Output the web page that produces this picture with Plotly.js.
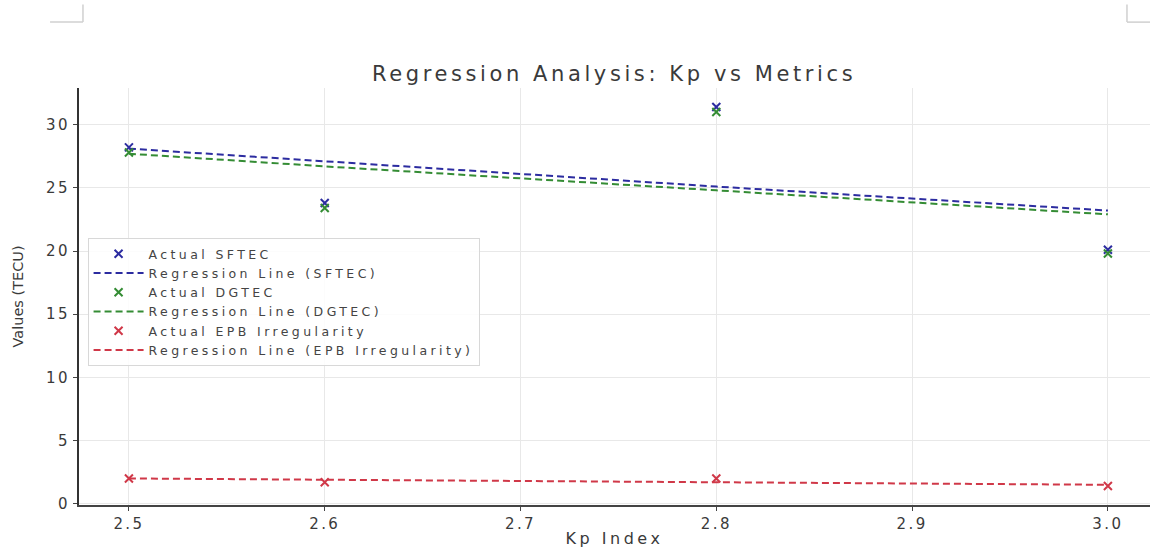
<!DOCTYPE html>
<html>
<head>
<meta charset="utf-8">
<script src="https://cdn.plot.ly/plotly-3.0.1.min.js"></script>
<style>
html,body{margin:0;padding:0;background:#fff;}
#chart{width:1150px;height:548px;}
.gtitle{letter-spacing:3.6px;}
.xtick text,.ytick text{letter-spacing:2.4px;}
.legendtext{letter-spacing:3.4px;}
.xtitle{letter-spacing:3.5px;}
</style>
</head>
<body>
<div id="chart"></div>
<script>
// Data
const kpIndex = [2.5, 2.6, 2.8, 3.0];
const sftecActual = [28.2, 23.8, 31.4, 20.1];
const dgtecActual = [27.8, 23.4, 31.0, 19.8];
const epbActual = [2.0, 1.7, 2.0, 1.4];
// Regression line values
const sftecRegression = [28.1, 27.1, 25.1, 23.2];
const dgtecRegression = [27.7, 26.7, 24.8, 22.9];
const epbRegression = [2.0, 1.9, 1.7, 1.5];

const blue = '#2c2ca0', green = '#348c34', red = '#d03848';
function pts(name, y, c) {
  return {x: kpIndex, y: y, name: name, type: 'scatter', mode: 'markers',
    marker: {symbol: 'x-thin', size: 8, color: c, line: {color: c, width: 2}}};
}
function reg(name, y, c) {
  return {x: kpIndex, y: y, name: name, type: 'scatter', mode: 'lines',
    line: {color: c, width: 2, dash: '7px,4px'}};
}
const traces = [
  pts('Actual SFTEC', sftecActual, blue),
  reg('Regression Line (SFTEC)', sftecRegression, blue),
  pts('Actual DGTEC', dgtecActual, green),
  reg('Regression Line (DGTEC)', dgtecRegression, green),
  pts('Actual EPB Irregularity', epbActual, red),
  reg('Regression Line (EPB Irregularity)', epbRegression, red)
];
const txt = '#3a3a3a';
const layout = {
  width: 1150, height: 548,
  margin: {l: 79, r: 0, t: 88, b: 43},
  paper_bgcolor: '#fff', plot_bgcolor: '#fff',
  font: {family: 'DejaVu Sans', size: 13, color: txt},
  showlegend: true,
  title: {text: 'Regression Analysis: Kp vs Metrics', x: 0.534, xanchor: 'center', y: 0.865, yanchor: 'middle',
    font: {family: 'DejaVu Sans', size: 21, color: txt}},
  xaxis: {range: [2.4745, 3.0215], tickvals: [2.5, 2.6, 2.7, 2.8, 2.9, 3.0],
    ticktext: ['2.5', '2.6', '2.7', '2.8', '2.9', '3.0'],
    showgrid: true, gridcolor: '#e8e8e8', gridwidth: 1, zeroline: false,
    showline: true, linecolor: '#444', linewidth: 1.5, ticks: 'outside', ticklen: 4, tickcolor: '#444',
    tickfont: {family: 'DejaVu Sans', size: 15, color: txt},
    title: {text: 'Kp Index', font: {family: 'DejaVu Sans', size: 16, color: txt}, standoff: 4}},
  yaxis: {range: [-0.1, 32.9], tickvals: [0, 5, 10, 15, 20, 25, 30],
    showgrid: true, gridcolor: '#e8e8e8', gridwidth: 1, zeroline: false,
    showline: true, linecolor: '#333', linewidth: 2, ticks: 'outside', ticklen: 4, tickcolor: '#444',
    tickfont: {family: 'DejaVu Sans', size: 15, color: txt},
    title: {text: 'Values (TECU)', font: {family: 'DejaVu Sans', size: 14.5, color: txt}, standoff: 19}},
  legend: {x: 0.008, y: 0.64, xanchor: 'left', yanchor: 'top',
    bgcolor: 'rgba(255,255,255,0.85)', bordercolor: '#d8d8d8', borderwidth: 1,
    font: {family: 'DejaVu Sans', size: 12.5, color: '#444'}, tracegroupgap: 0, itemwidth: 50},
  shapes: [
    {type: 'line', xref: 'paper', yref: 'paper', x0: -0.027, x1: 0.0037, y0: 1.158, y1: 1.158, line: {color: '#d0d0d0', width: 1.5}},
    {type: 'line', xref: 'paper', yref: 'paper', x0: 0.0037, x1: 0.0037, y0: 1.158, y1: 1.2, line: {color: '#d0d0d0', width: 1.5}},
    {type: 'line', xref: 'paper', yref: 'paper', x0: 0.9785, x1: 1.0, y0: 1.158, y1: 1.158, line: {color: '#d0d0d0', width: 1.5}},
    {type: 'line', xref: 'paper', yref: 'paper', x0: 0.9785, x1: 0.9785, y0: 1.158, y1: 1.2, line: {color: '#d0d0d0', width: 1.5}}
  ]
};
Plotly.newPlot('chart', traces, layout, {displayModeBar: false, staticPlot: true});
</script>
</body>
</html>
